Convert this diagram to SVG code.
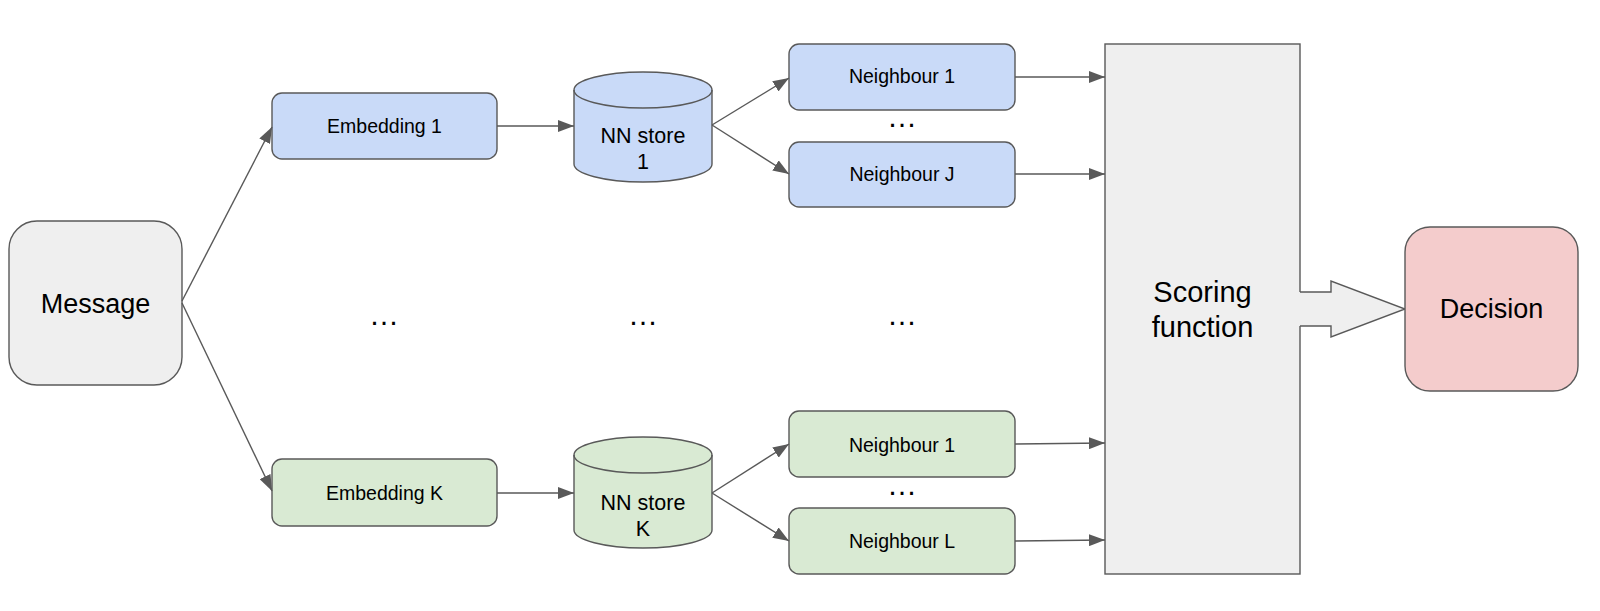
<svg xmlns="http://www.w3.org/2000/svg" width="1600" height="611" viewBox="0 0 1600 611">
<style>
  .box { stroke: #595959; stroke-width: 1.4; }
  .blue { fill: #c9daf8; }
  .green { fill: #d9ead3; }
  .grey { fill: #efefef; }
  .pink { fill: #f4cccc; }
  text { font-family: "Liberation Sans", Arial, sans-serif; fill: #000; text-anchor: middle; }
  .s { font-size: 19.5px; }
  .m { font-size: 21.5px; }
  .l { font-size: 27px; }
  .xl { font-size: 29px; }
  .dots { font-size: 30px; }
  .conn line { stroke: #595959; stroke-width: 1.4; fill: none; marker-end: url(#arrow); }
</style>
<defs>
  <marker id="arrow" markerUnits="userSpaceOnUse" markerWidth="16" markerHeight="12" refX="16" refY="6" orient="auto">
    <path d="M0,0 L16,6 L0,12 Z" fill="#595959"/>
  </marker>
</defs>
<rect width="1600" height="611" fill="#ffffff"/>

<g id="message">
  <rect class="box grey" x="9" y="221" width="173" height="164" rx="28" ry="28"/>
  <text class="l" x="95.5" y="313">Message</text>
</g>

<g id="embedding1">
  <rect class="box blue" x="272" y="93" width="225" height="66" rx="10" ry="10"/>
  <text class="s" x="384.5" y="133">Embedding 1</text>
</g>
<g id="embeddingK">
  <rect class="box green" x="272" y="459" width="225" height="67" rx="10" ry="10"/>
  <text class="s" x="384.5" y="500">Embedding K</text>
</g>

<g id="nnstore1">
  <path class="box blue" d="M574,90 A69,18 0 0,1 712,90 L712,164 A69,18 0 0,1 574,164 Z"/>
  <path d="M574,90 A69,18 0 0,0 712,90" fill="none" stroke="#595959" stroke-width="1.4"/>
  <text class="m" x="643" y="143">NN store</text>
  <text class="m" x="643" y="169">1</text>
</g>
<g id="nnstoreK">
  <path class="box green" d="M574,455 A69,18 0 0,1 712,455 L712,530 A69,18 0 0,1 574,530 Z"/>
  <path d="M574,455 A69,18 0 0,0 712,455" fill="none" stroke="#595959" stroke-width="1.4"/>
  <text class="m" x="643" y="510">NN store</text>
  <text class="m" x="643" y="536">K</text>
</g>

<g id="neighbour1-blue">
  <rect class="box blue" x="789" y="44" width="226" height="66" rx="10" ry="10"/>
  <text class="s" x="902" y="83">Neighbour 1</text>
</g>
<g id="neighbourJ">
  <rect class="box blue" x="789" y="142" width="226" height="65" rx="10" ry="10"/>
  <text class="s" x="902" y="181">Neighbour J</text>
</g>
<g id="neighbour1-green">
  <rect class="box green" x="789" y="411" width="226" height="66" rx="10" ry="10"/>
  <text class="s" x="902" y="452">Neighbour 1</text>
</g>
<g id="neighbourL">
  <rect class="box green" x="789" y="508" width="226" height="66" rx="10" ry="10"/>
  <text class="s" x="902" y="548">Neighbour L</text>
</g>

<g id="ellipses">
  <text class="dots" x="902" y="127">…</text>
  <text class="dots" x="902" y="495">…</text>
  <text class="dots" x="384" y="325">…</text>
  <text class="dots" x="643" y="325">…</text>
  <text class="dots" x="902" y="325">…</text>
</g>

<g id="scoring">
  <rect class="box grey" x="1105" y="44" width="195" height="530"/>
  <polygon points="1299,292 1331,292 1331,281 1405,309 1331,337 1331,326 1299,326" fill="#efefef"/>
  <polyline points="1300,292 1331,292 1331,281 1405,309 1331,337 1331,326 1300,326" fill="none" stroke="#595959" stroke-width="1.4"/>
  <text class="xl" x="1202.5" y="302">Scoring</text>
  <text class="xl" x="1202.5" y="337">function</text>
</g>

<g id="decision">
  <rect class="box pink" x="1405" y="227" width="173" height="164" rx="25" ry="25"/>
  <text class="l" x="1491.5" y="318">Decision</text>
</g>

<g id="connectors" class="conn">
  <line x1="182" y1="301" x2="272" y2="127"/>
  <line x1="182" y1="303" x2="272" y2="491"/>
  <line x1="497" y1="126" x2="574" y2="126"/>
  <line x1="497" y1="493" x2="574" y2="493"/>
  <line x1="712" y1="125" x2="789" y2="78"/>
  <line x1="712" y1="125" x2="789" y2="174"/>
  <line x1="712" y1="493" x2="789" y2="444"/>
  <line x1="712" y1="493" x2="789" y2="541"/>
  <line x1="1015" y1="77" x2="1105" y2="77"/>
  <line x1="1015" y1="174" x2="1105" y2="174"/>
  <line x1="1015" y1="444" x2="1105" y2="443"/>
  <line x1="1015" y1="541" x2="1105" y2="540"/>
</g>
</svg>
